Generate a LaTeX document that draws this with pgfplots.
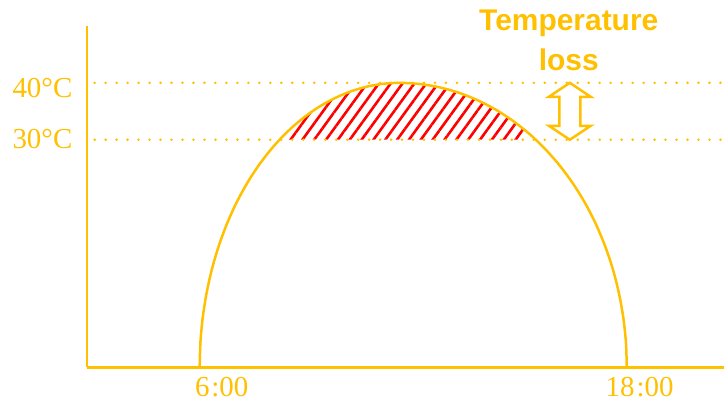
\documentclass[border=0pt]{standalone}
\usepackage{fontspec}
\setmainfont{Liberation Serif}
\newfontfamily\headfont{Liberation Sans}
\usepackage{pgfplots}
\pgfplotsset{compat=1.18}
\usepgfplotslibrary{fillbetween}
\usetikzlibrary{patterns.meta}
\definecolor{gold}{RGB}{255,192,0}

\begin{document}
\begin{tikzpicture}
\begin{axis}[
    at={(87pt,42pt)}, anchor=south west,
    scale only axis, width=638pt, height=342pt,
    xmin=2.83, xmax=20.72, ymin=-10, ymax=50,
    axis x line*=bottom, axis y line*=left,
    axis line style={gold, line width=2.5pt},
    major tick length=0pt,
    xtick={6.62,18.36},
    xticklabels={6\kern2pt:00, 18\kern2pt:00},
    ytick={30.18,39.12},
    yticklabels={30°C, 40°C},
    tick label style={text=gold, font=\fontsize{29}{32}\selectfont},
    xticklabel style={yshift=-6pt},
    yticklabel style={xshift=-11pt},
    clip=false,
  ]
  % reference levels
  \addplot[gold, line width=2.8pt, dash pattern=on 0pt off 11pt, line cap=round, name path=low]
    coordinates {(3.05,30) (20.72,30)};
  \addplot[gold, line width=2.8pt, dash pattern=on 0pt off 11pt, line cap=round]
    coordinates {(3.05,40) (20.72,40)};

  % daily temperature curve
  \addplot[gold, line width=2.5pt, smooth, name path=curve] coordinates {
    (6.000,-10) (6.021,-5.64) (6.085,-1.32) (6.191,2.94) (6.338,7.10)
    (6.526,11.13) (6.752,15) (7.014,18.68) (7.313,22.14) (7.643,25.36)
    (8.004,28.30) (8.392,30.96) (8.805,33.30) (9.239,35.32) (9.691,36.98)
    (10.158,38.30) (10.636,39.24) (11.121,39.81) (11.610,40)
    (12.167,39.81) (12.719,39.24) (13.264,38.30) (13.795,36.98) (14.310,35.32)
    (14.805,33.30) (15.275,30.96) (15.718,28.30) (16.128,25.36) (16.505,22.14)
    (16.845,18.68) (17.144,15) (17.401,11.13) (17.615,7.10) (17.782,2.94)
    (17.903,-1.32) (17.976,-5.64) (18.000,-10)
  };

  % loss above 30 degrees
  \addplot[pattern={Lines[angle=54, distance=9.6pt, line width=2.6pt]}, pattern color=red]
    fill between[of=curve and low, soft clip={domain=8.5:15.15}];

  \coordinate (A) at (axis cs:16.40,35);
  \node[anchor=north, inner sep=0pt, align=center, text=gold,
        font=\headfont\bfseries\fontsize{30}{40}\selectfont]
    at (axis cs:16.37,52.9) {Temperature\\loss};
\end{axis}
\draw[gold, line width=2.5pt, line join=miter]
  ([shift={(0pt,28.5pt)}]A) -- ([shift={(21pt,14.5pt)}]A) -- ([shift={(10.5pt,14.5pt)}]A)
  -- ([shift={(10.5pt,-14.5pt)}]A) -- ([shift={(21pt,-14.5pt)}]A) -- ([shift={(0pt,-28.5pt)}]A)
  -- ([shift={(-21pt,-14.5pt)}]A) -- ([shift={(-10.5pt,-14.5pt)}]A) -- ([shift={(-10.5pt,14.5pt)}]A)
  -- ([shift={(-21pt,14.5pt)}]A) -- cycle;
\useasboundingbox (0,0) rectangle (725pt,410pt);
\end{tikzpicture}
\end{document}
